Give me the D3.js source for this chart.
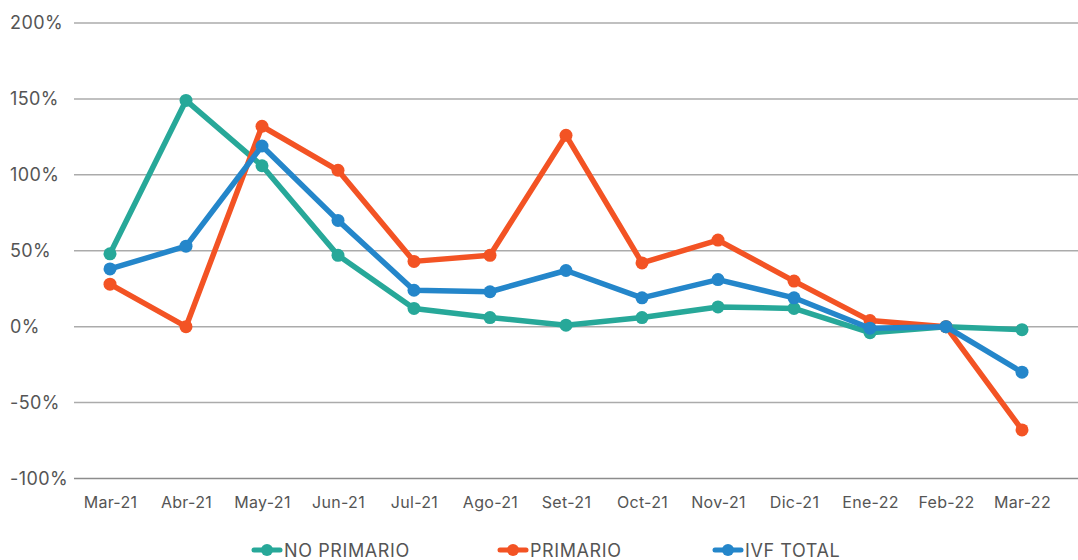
<!DOCTYPE html>
<html>
<head>
<meta charset="utf-8">
<script src="https://cdn.jsdelivr.net/npm/d3@7/dist/d3.min.js"></script>
<style>
  html, body { margin: 0; padding: 0; background: #fff; }
  svg { display: block; font-family: Inter, "Noto Sans", sans-serif; }
</style>
</head>
<body>
<svg id="chart" width="1078" height="560"></svg>
<script>
const categories = ["Mar-21","Abr-21","May-21","Jun-21","Jul-21","Ago-21","Set-21","Oct-21","Nov-21","Dic-21","Ene-22","Feb-22","Mar-22"];
const noPrimario = [48, 149, 106, 47, 12, 6, 1, 6, 13, 12, -4, 0, -2];
const primario   = [28, 0, 132, 103, 43, 47, 126, 42, 57, 30, 4, 0, -68];
const ivfTotal   = [38, 53, 119, 70, 24, 23, 37, 19, 31, 19, -1, 0, -30];
const yTicks = [-100, -50, 0, 50, 100, 150, 200];
const seriesNames = ["NO PRIMARIO", "PRIMARIO", "IVF TOTAL"];
const seriesColors = ["#27a899", "#f35324", "#2486ca"];

const series = [
  {name: seriesNames[0], color: seriesColors[0], values: noPrimario},
  {name: seriesNames[1], color: seriesColors[1], values: primario},
  {name: seriesNames[2], color: seriesColors[2], values: ivfTotal}
];

const svg = d3.select("#chart");
const x = d3.scalePoint().domain(categories).range([110, 1022]);
const y = d3.scaleLinear().domain([-100, 200]).range([478.5, 23]);

// gridlines
const grid = svg.append("g");
grid.selectAll("line").data(yTicks).join("line")
  .attr("x1", 74).attr("x2", 1078)
  .attr("y1", d => y(d)).attr("y2", d => y(d))
  .attr("stroke", d => d === -100 ? "#8c8c8c" : "#ababab")
  .attr("stroke-width", 1.5);

// y labels
svg.append("g").selectAll("text").data(yTicks).join("text")
  .attr("x", 10).attr("y", d => y(d))
  .attr("dy", "0.36em")
  .attr("fill", "#555")
  .attr("font-size", 18)
  .attr("letter-spacing", 0.4)
  .text(d => d + "%");

// x labels
const xAxis = d3.axisBottom(x).tickSize(0).tickPadding(0);
const gx = svg.append("g").attr("transform", "translate(0,494)").call(xAxis);
gx.select(".domain").remove();
gx.selectAll("text").attr("font-size", 16).attr("fill", "#555")
  .attr("font-family", "Inter, 'Noto Sans', sans-serif").attr("dy", "0.9em")
  .attr("letter-spacing", 0.3);

// lines
const line = d3.line().x((d, i) => x(categories[i])).y(d => y(d));
series.forEach(s => {
  const g = svg.append("g");
  g.append("path").datum(s.values)
    .attr("d", line)
    .attr("fill", "none")
    .attr("stroke", s.color)
    .attr("stroke-width", 5.5)
    .attr("stroke-linejoin", "round");
  g.selectAll("circle").data(s.values).join("circle")
    .attr("cx", (d, i) => x(categories[i]))
    .attr("cy", d => y(d))
    .attr("r", 6.5)
    .attr("fill", s.color);
});

// legend
const legendX = [254, 500, 715];
const legend = svg.append("g");
series.forEach((s, i) => {
  const g = legend.append("g").attr("transform", `translate(${legendX[i]},550)`);
  g.append("line").attr("x1", 0).attr("x2", 26).attr("y1", 0).attr("y2", 0)
    .attr("stroke", s.color).attr("stroke-width", 5).attr("stroke-linecap", "round");
  g.append("circle").attr("cx", 13).attr("cy", 0).attr("r", 6).attr("fill", s.color);
  g.append("text").attr("x", 30).attr("y", 0).attr("dy", "0.38em")
    .attr("font-size", 18).attr("letter-spacing", 0.6)
    .attr("fill", "#555").text(s.name);
});
</script>
</body>
</html>
